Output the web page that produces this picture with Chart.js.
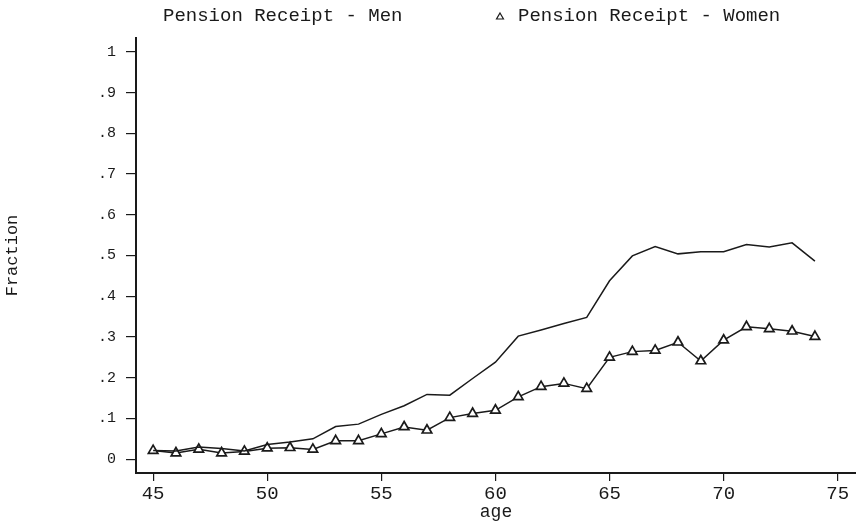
<!DOCTYPE html>
<html>
<head>
<meta charset="utf-8">
<title>Pension Receipt by Age</title>
<script src="https://cdn.jsdelivr.net/npm/chart.js@4/dist/chart.umd.min.js"></script>
<style>
  html, body { margin: 0; padding: 0; background: #fff; }
  canvas { display: block; }
</style>
</head>
<body>
<canvas id="pensionChart" width="856" height="524"></canvas>
<script>
const ages = [45, 46, 47, 48, 49, 50, 51, 52, 53, 54, 55, 56, 57, 58, 59,
  60, 61, 62, 63, 64, 65, 66, 67, 68, 69, 70, 71, 72, 73, 74];
const menFraction = [0.021, 0.020, 0.030, 0.026, 0.020, 0.036, 0.042, 0.050, 0.080, 0.086,
  0.110, 0.131, 0.159, 0.157, 0.198, 0.238, 0.302, 0.317, 0.333, 0.348,
  0.438, 0.499, 0.522, 0.504, 0.509, 0.509, 0.527, 0.521, 0.531, 0.486];
const womenFraction = [0.021, 0.015, 0.024, 0.015, 0.019, 0.027, 0.028, 0.024, 0.045, 0.045,
  0.062, 0.079, 0.071, 0.102, 0.112, 0.120, 0.153, 0.178, 0.186, 0.173,
  0.250, 0.264, 0.267, 0.287, 0.241, 0.292, 0.325, 0.320, 0.314, 0.301];
const xTicks = [45, 50, 55, 60, 65, 70, 75];
const yTicks = [0, 0.1, 0.2, 0.3, 0.4, 0.5, 0.6, 0.7, 0.8, 0.9, 1];
const yTickLabels = ["0", ".1", ".2", ".3", ".4", ".5", ".6", ".7", ".8", ".9", "1"];
const seriesLabels = ["Pension Receipt - Men", "Pension Receipt - Women"];

const MONO = "'Liberation Mono', 'DejaVu Sans Mono', monospace";
const INK = "#1a1a1a";

// Stata-style legend above the plot: plain text for men, hollow triangle + text for women
const topLegend = {
  id: "topLegend",
  afterDraw(chart) {
    const ctx = chart.ctx;
    ctx.save();
    ctx.font = "19px " + MONO;
    ctx.fillStyle = INK;
    ctx.textBaseline = "middle";
    ctx.textAlign = "left";
    ctx.fillText(seriesLabels[0], 163, 16);
    ctx.fillText(seriesLabels[1], 518, 16);
    ctx.fillStyle = "#fff";
    ctx.strokeStyle = INK;
    ctx.lineWidth = 1.2;
    Chart.helpers.drawPoint(ctx, {
      pointStyle: "triangle",
      radius: 4,
      borderWidth: 1.2,
      rotation: 0,
    }, 500, 17);
    ctx.restore();
  },
};

const ctx = document.getElementById("pensionChart").getContext("2d");
new Chart(ctx, {
  type: "line",
  data: {
    datasets: [
      {
        label: seriesLabels[0],
        data: ages.map((a, i) => ({ x: a, y: menFraction[i] })),
        borderColor: INK,
        borderWidth: 1.5,
        pointRadius: 0,
        tension: 0,
      },
      {
        label: seriesLabels[1],
        data: ages.map((a, i) => ({ x: a, y: womenFraction[i] })),
        borderColor: INK,
        borderWidth: 1.5,
        pointStyle: "triangle",
        pointRadius: 5.5,
        pointBorderWidth: 1.7,
        pointBackgroundColor: "#fff",
        pointBorderColor: INK,
        tension: 0,
      },
    ],
  },
  options: {
    responsive: false,
    animation: false,
    devicePixelRatio: 1,
    layout: { autoPadding: false, padding: { top: 38, right: 0, left: 0, bottom: 0 } },
    plugins: {
      legend: { display: false },
      tooltip: { enabled: false },
    },
    scales: {
      x: {
        type: "linear",
        min: 44.25,
        max: 75.8,
        afterBuildTicks: (scale) => {
          scale.ticks = xTicks.map((v) => ({ value: v }));
        },
        afterFit: (scale) => {
          scale.height = 51;
        },
        ticks: {
          autoSkip: false,
          maxRotation: 0,
          padding: 2,
          color: INK,
          font: { family: MONO, size: 19 },
        },
        grid: {
          drawOnChartArea: false,
          drawTicks: true,
          tickLength: 8,
          color: INK,
          lineWidth: 1.2,
        },
        border: { display: true, color: INK, width: 2 },
        title: {
          display: true,
          text: "age",
          color: INK,
          font: { family: MONO, size: 18 },
          padding: { top: 0, bottom: 1 },
        },
      },
      y: {
        type: "linear",
        min: -0.034,
        max: 1.034,
        afterBuildTicks: (scale) => {
          scale.ticks = yTicks.map((v) => ({ value: v }));
        },
        afterFit: (scale) => {
          scale.width = 136;
        },
        ticks: {
          autoSkip: false,
          padding: 10,
          color: INK,
          font: { family: MONO, size: 15 },
          callback: (value) => {
            const i = yTicks.findIndex((t) => Math.abs(t - value) < 1e-9);
            return i >= 0 ? yTickLabels[i] : "";
          },
        },
        grid: {
          drawOnChartArea: false,
          drawTicks: true,
          tickLength: 10,
          color: INK,
          lineWidth: 1.2,
        },
        border: { display: true, color: INK, width: 2 },
        title: {
          display: true,
          text: "Fraction",
          color: INK,
          font: { family: MONO, size: 17 },
          padding: { top: 2, bottom: 0 },
        },
      },
    },
  },
  plugins: [topLegend],
});
</script>
</body>
</html>
